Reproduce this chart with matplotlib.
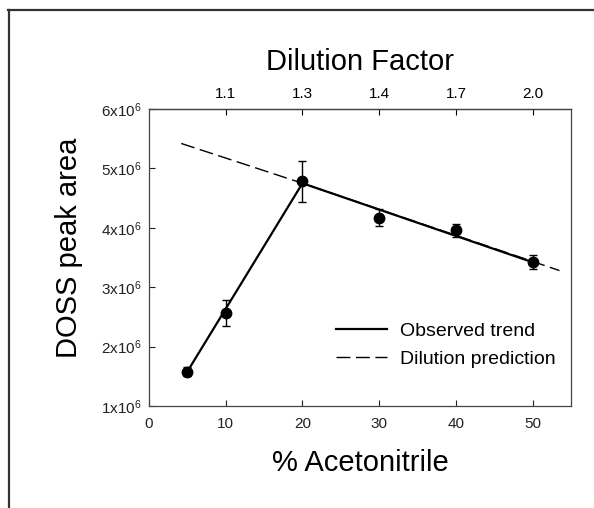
import numpy as np
import matplotlib
matplotlib.use("Agg")
import matplotlib.pyplot as plt
from matplotlib.lines import Line2D

plt.rcParams['font.family'] = ['Liberation Sans', 'DejaVu Sans']

# data
acetonitrile = [5, 10, 20, 30, 40, 50]
peak_area = [1.58e6, 2.56e6, 4.78e6, 4.17e6, 3.96e6, 3.42e6]
peak_err = [0.08e6, 0.22e6, 0.35e6, 0.14e6, 0.11e6, 0.12e6]

trend_x = [5, 20, 50]
trend_y = [1.58e6, 4.75e6, 3.42e6]

dilution_x = [4.2, 20, 53.5]
dilution_y = [5.42e6, 4.75e6, 3.28e6]

top_ticks = [10, 20, 30, 40, 50]
top_labels = ['1.1', '1.3', '1.4', '1.7', '2.0']

y_ticks = [1e6, 2e6, 3e6, 4e6, 5e6, 6e6]
y_labels = [r'$\mathregular{%dx10^{6}}$' % int(v / 1e6) for v in y_ticks]

fig = plt.figure(figsize=(5.94, 5.08), dpi=100)
ax = fig.add_axes([149 / 594, 1 - 406 / 508, (571 - 149) / 594, (406 - 109) / 508])

# frame around the figure (top and left only)
fig.add_artist(Line2D([8 / 594, 1.0], [1 - 10 / 508, 1 - 10 / 508], color='#333333', lw=1.6))
fig.add_artist(Line2D([9 / 594, 9 / 594], [0.0, 1 - 10 / 508], color='#333333', lw=1.6))

ax.plot(dilution_x, dilution_y, color='black', lw=1.0, dashes=(10, 4), label='Dilution prediction')
ax.plot(trend_x, trend_y, color='black', lw=1.6, label='Observed trend')
ax.errorbar(acetonitrile, peak_area, yerr=peak_err, fmt='o', color='black',
            markersize=7.5, capsize=3, elinewidth=1, capthick=1, zorder=5)

ax.set_xlim(0, 55)
ax.set_ylim(1e6, 6e6)
ax.set_xticks([0, 10, 20, 30, 40, 50])
ax.set_yticks(y_ticks)
ax.set_yticklabels(y_labels)
ax.tick_params(direction='in', length=4, width=0.8, labelsize=11, colors='#222222')
ax.tick_params(axis='x', pad=8)
ax.tick_params(axis='y', pad=5)
for sp in ax.spines.values():
    sp.set_linewidth(0.9)
    sp.set_color('#444444')

ax.set_xlabel('% Acetonitrile', fontsize=21, labelpad=13)
ax.set_ylabel('DOSS peak area', fontsize=21)
ax.yaxis.set_label_coords(-0.156, 0.532)

top = ax.secondary_xaxis('top')
top.set_xticks(top_ticks)
top.set_xticklabels(top_labels)
top.tick_params(direction='in', length=4, width=0.8, labelsize=11, pad=6)
top.spines['top'].set_linewidth(0.9)
top.spines['top'].set_color('#444444')
top.set_xlabel('Dilution Factor', fontsize=21, labelpad=12)

handles, labels = ax.get_legend_handles_labels()
ax.legend(handles[::-1], labels[::-1], loc='center left',
          bbox_to_anchor=(336 / 594, 1 - 345 / 508), bbox_transform=fig.transFigure,
          frameon=False, fontsize=14, handlelength=2.6, handletextpad=0.7,
          labelspacing=0.55, borderpad=0, borderaxespad=0)

fig.savefig('out.png', dpi=100)
